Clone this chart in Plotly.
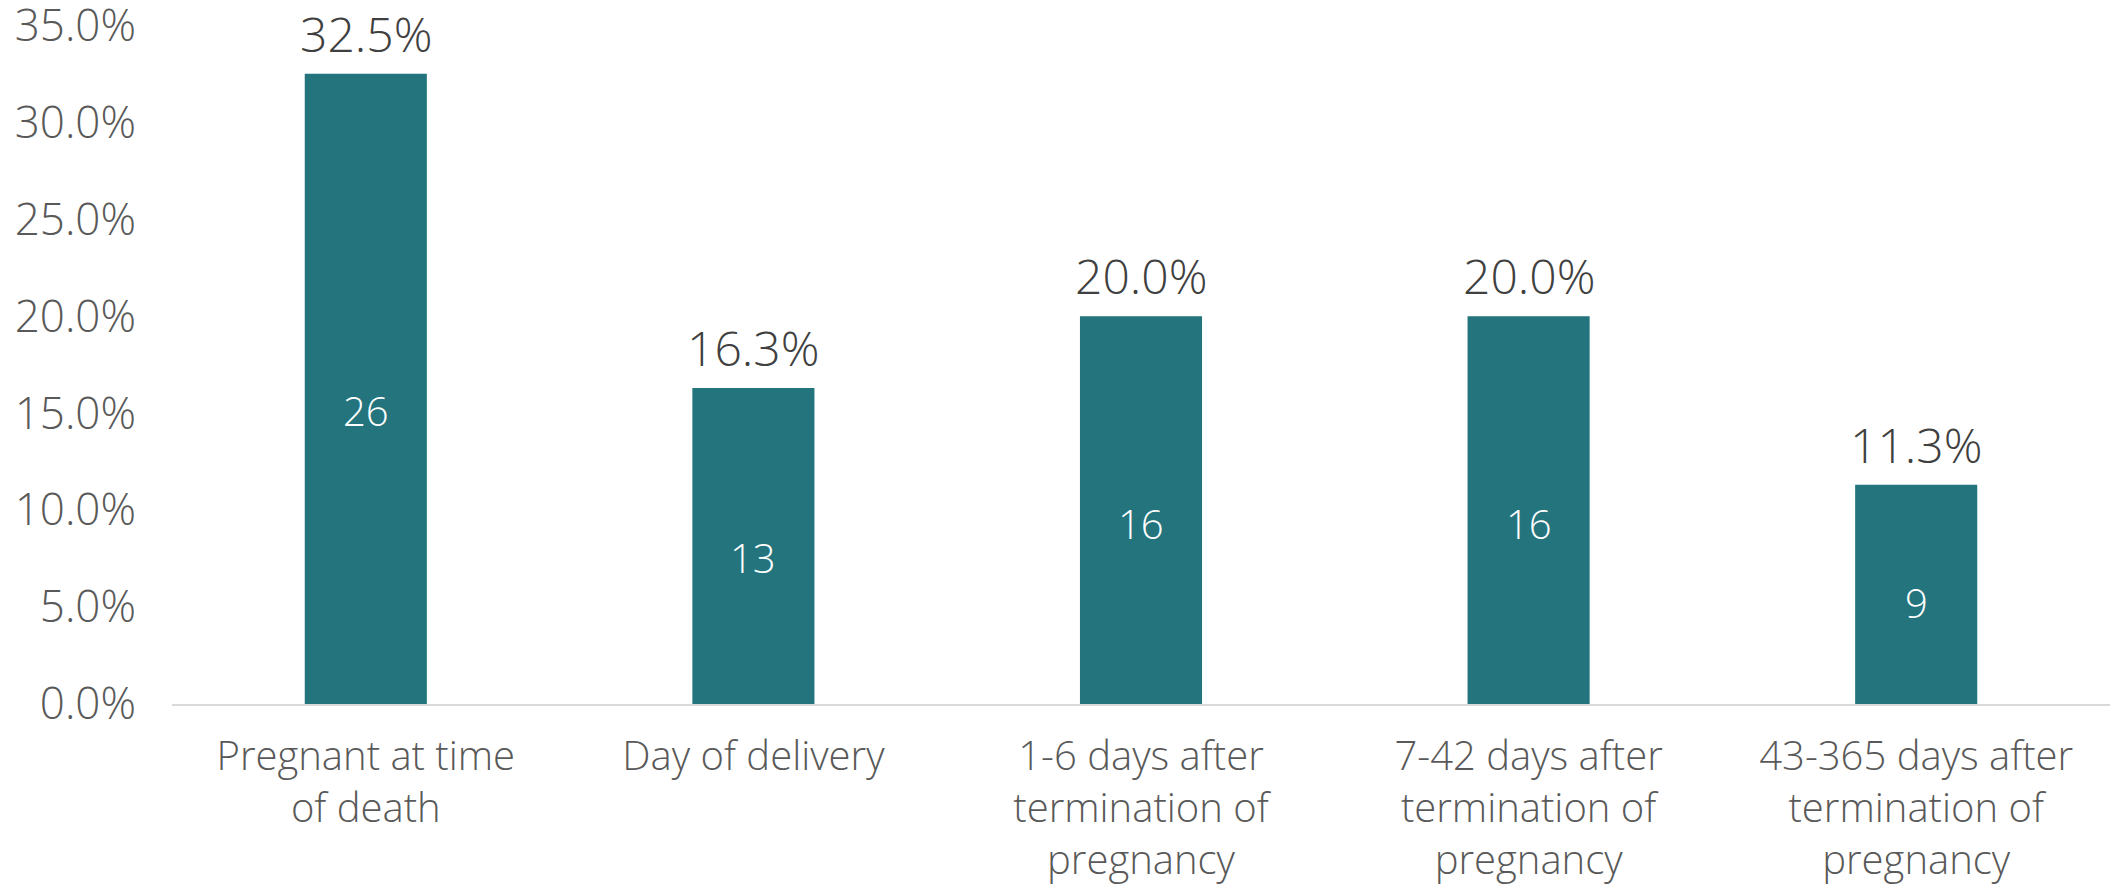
import plotly.graph_objects as go

categories = [
    "Pregnant at time<br>of death",
    "Day of delivery",
    "1-6 days after<br>termination of<br>pregnancy",
    "7-42 days after<br>termination of<br>pregnancy",
    "43-365 days after<br>termination of<br>pregnancy",
]
percentages = [0.325, 0.163, 0.200, 0.200, 0.113]
counts = [26, 13, 16, 16, 9]
y_ticks = [0, 0.05, 0.10, 0.15, 0.20, 0.25, 0.30, 0.35]

FONT = "Open Sans"
BAR_COLOR = "#23747D"
COUNT_LABEL_POS = 0.465  # fraction of bar height where the count label sits

fig = go.Figure()
fig.add_trace(go.Bar(
    x=categories,
    y=percentages,
    marker=dict(color=BAR_COLOR, line=dict(width=0)),
    width=0.315,
    hoverinfo="skip",
))

for cat, p, n in zip(categories, percentages, counts):
    fig.add_annotation(
        x=cat, y=p, text=f"{p*100:.1f}%", showarrow=False,
        yanchor="bottom", yshift=6,
        font=dict(family=FONT, size=48, color="#404040", weight=300),
    )
    fig.add_annotation(
        x=cat, y=p * COUNT_LABEL_POS, text=str(n), showarrow=False,
        yanchor="middle",
        font=dict(family=FONT, size=40, color="white", weight=300),
    )

fig.update_layout(
    width=2111, height=880,
    margin=dict(l=164, r=9, t=17, b=184),
    paper_bgcolor="white", plot_bgcolor="white",
    showlegend=False,
    font=dict(family=FONT, color="#595959", weight=300),
)
fig.update_xaxes(
    showline=True, linecolor="#D9D9D9", linewidth=2,
    showgrid=False, ticks="", automargin=False,
    tickfont=dict(family=FONT, size=40, color="#595959", weight=300),
    ticklabelstandoff=16,
)
fig.update_yaxes(
    range=[0, 0.35 * 1.0004], tickvals=y_ticks, tickformat=".1%",
    showgrid=False, zeroline=False, showline=False, automargin=False,
    tickfont=dict(family=FONT, size=44, color="#595959", weight=300),
    ticklabelstandoff=35, ticklabeloverflow="allow",
)

fig.write_html("out.html")
